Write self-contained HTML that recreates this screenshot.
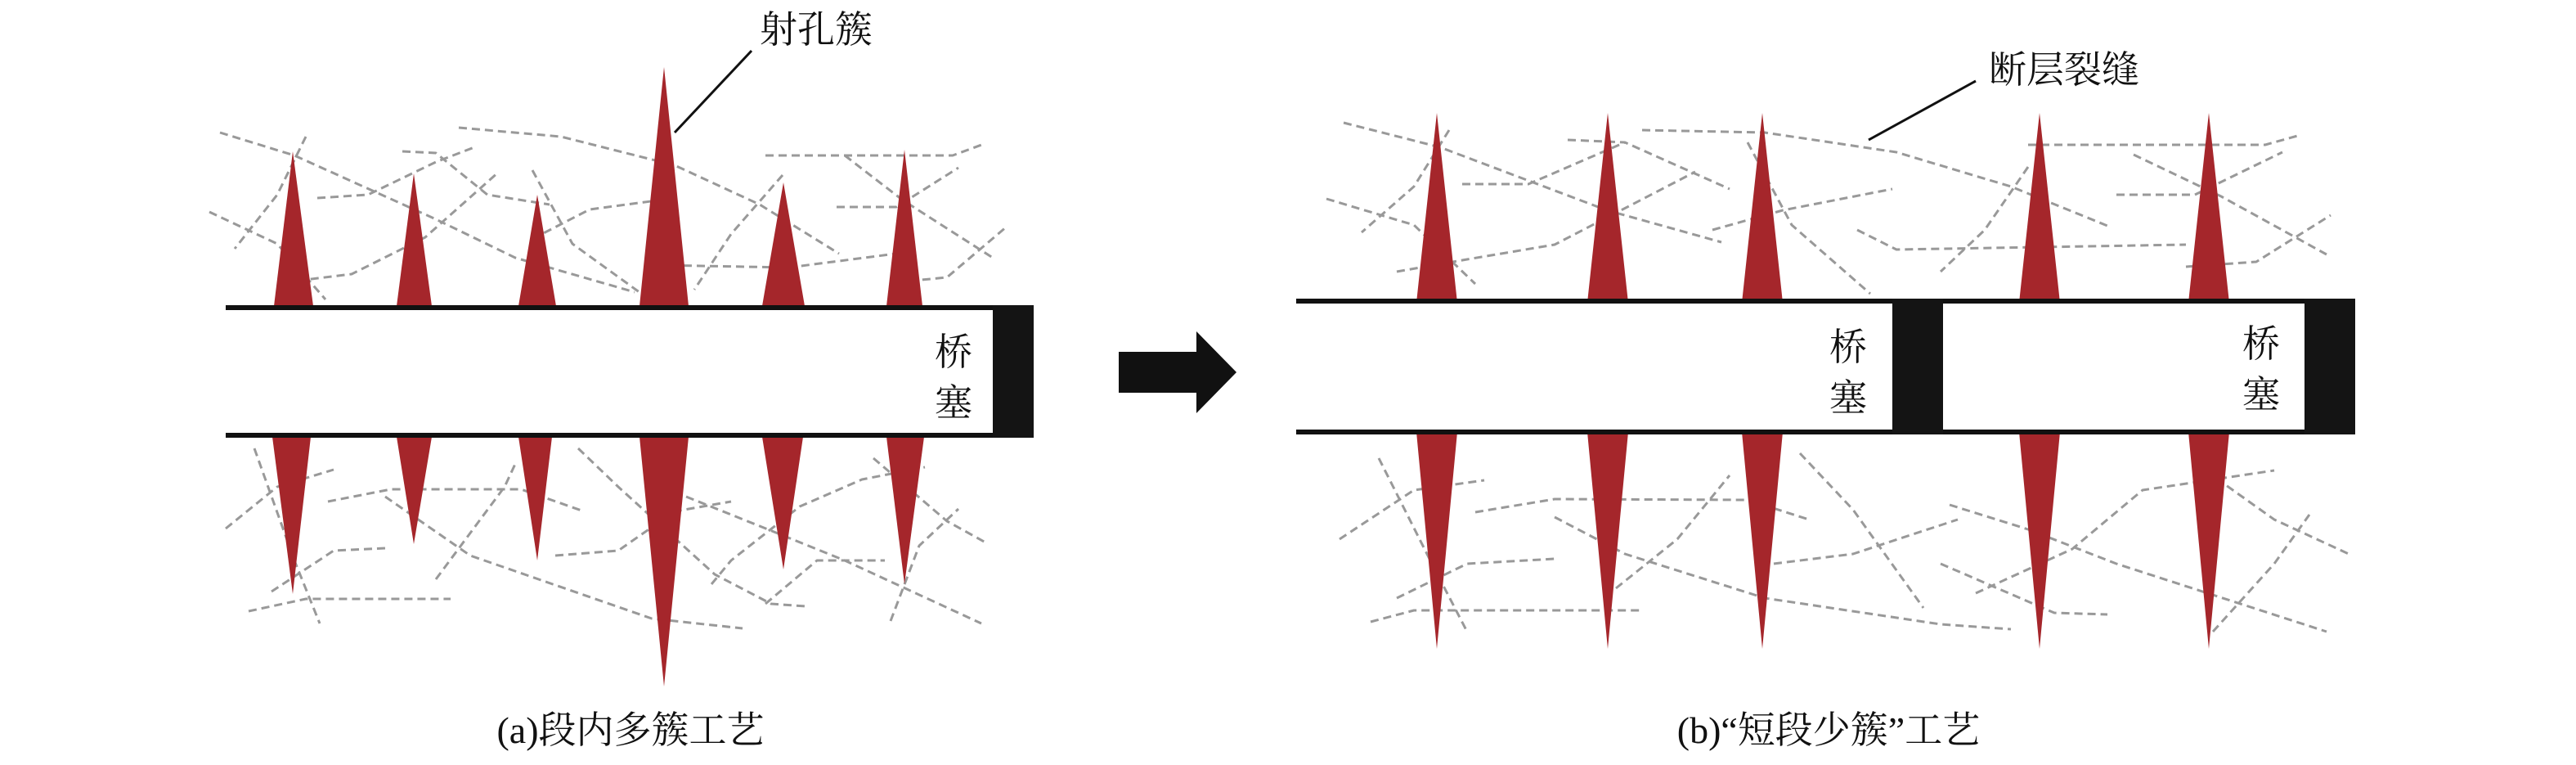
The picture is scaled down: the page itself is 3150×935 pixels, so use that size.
<!DOCTYPE html>
<html><head><meta charset="utf-8"><style>html,body{margin:0;padding:0;background:#fff}svg{display:block}</style></head>
<body>
<svg width="3150" height="935" viewBox="0 0 3150 935" xmlns="http://www.w3.org/2000/svg">
<rect width="3150" height="935" fill="#fff"/>
<g fill="none" stroke="#999" stroke-width="3" stroke-dasharray="10 6" stroke-linejoin="round">
<!-- part a top -->
<polyline points="269,162 360,190 533,268 630,315 776,357"/>
<polyline points="561,156 686,167 825,202 929,250 1026,310"/>
<polyline points="492,185 533,187 596,238 672,250"/>
<polyline points="388,242 450,238 533,198 580,180"/>
<polyline points="348,345 430,335 520,290 610,210"/>
<polyline points="651,292 721,256 811,244"/>
<polyline points="804,324 964,327 1096,310"/>
<polyline points="936,190 1165,190 1203,176"/>
<polyline points="1023,253 1096,253 1172,205"/>
<polyline points="1033,190 1103,244 1214,315"/>
<polyline points="1096,345 1158,339 1231,277"/>
<polyline points="256,259 339,298 398,366"/>
<polyline points="374,167 339,238 287,304"/>
<polyline points="651,208 700,298 790,363"/>
<polyline points="957,214 894,286 849,354"/>
<!-- part a bottom -->
<polyline points="311,548 360,685 391,762"/>
<polyline points="276,646 339,595 408,574"/>
<polyline points="401,613 478,598 637,598 714,625"/>
<polyline points="304,747 374,732 551,732"/>
<polyline points="332,723 408,673 471,670"/>
<polyline points="471,607 575,679 797,756 908,768"/>
<polyline points="533,708 617,595 631,565"/>
<polyline points="707,548 756,595 874,702 943,738 985,741"/>
<polyline points="679,679 756,673 825,625 894,613"/>
<polyline points="839,607 929,643 1033,685 1200,762"/>
<polyline points="870,714 894,685 978,619 1054,586 1131,571"/>
<polyline points="1068,560 1158,637 1207,664"/>
<polyline points="1089,759 1124,667 1172,622"/>
<polyline points="936,738 999,685 1082,685"/>
<!-- part b top -->
<polyline points="1643,150 1761,180 1965,257 2105,296"/>
<polyline points="2008,159 2158,162 2319,186 2459,228 2582,278"/>
<polyline points="1917,171 1987,174 2115,231"/>
<polyline points="1788,225 1869,225 1987,174"/>
<polyline points="1708,332 1794,317 1901,299 2073,210"/>
<polyline points="2094,281 2180,257 2314,231"/>
<polyline points="1622,243 1729,275 1804,347"/>
<polyline points="1772,159 1729,228 1665,284"/>
<polyline points="2137,174 2191,275 2287,359"/>
<polyline points="2271,281 2319,305 2673,299"/>
<polyline points="2480,177 2770,177 2813,165"/>
<polyline points="2588,238 2684,238 2791,186"/>
<polyline points="2609,189 2716,240 2845,311"/>
<polyline points="2673,326 2759,320 2850,263"/>
<polyline points="2480,204 2427,281 2373,332"/>
<!-- part b bottom -->
<polyline points="1686,560 1751,689 1794,772"/>
<polyline points="1638,659 1729,599 1815,587"/>
<polyline points="1804,626 1901,610 2137,611 2212,635"/>
<polyline points="1676,760 1729,746 2008,746"/>
<polyline points="1708,731 1794,689 1901,683"/>
<polyline points="1901,632 1987,677 2158,731 2373,763 2459,769"/>
<polyline points="1976,719 2051,659 2115,581"/>
<polyline points="2201,554 2266,623 2352,743"/>
<polyline points="2169,689 2266,677 2394,635"/>
<polyline points="2384,617 2480,647 2588,689 2845,772"/>
<polyline points="2416,725 2534,671 2620,599 2781,575"/>
<polyline points="2684,566 2781,635 2872,677"/>
<polyline points="2706,772 2781,689 2824,629"/>
<polyline points="2373,689 2512,749 2577,751"/>
</g>
<!-- part a spikes -->
<g fill="#a5262b">
<polygon points="335,374 358,185 383,374"/>
<polygon points="485,374 506,212 528,374"/>
<polygon points="634,374 657,238 680,374"/>
<polygon points="782,374 812,82 842,374"/>
<polygon points="932,374 958,223 984,374"/>
<polygon points="1084,374 1106,183 1128,374"/>
<polygon points="333,534 358,726 380,534"/>
<polygon points="485,534 506,665 528,534"/>
<polygon points="634,534 657,685 675,534"/>
<polygon points="782,534 812,839 842,534"/>
<polygon points="932,534 958,696 982,534"/>
<polygon points="1084,534 1106,714 1130,534"/>
<!-- part b spikes -->
<polygon points="1732,370 1757,138 1782,370"/>
<polygon points="1941,370 1966,138 1991,370"/>
<polygon points="2130,370 2155,138 2180,370"/>
<polygon points="2469,370 2494,138 2519,370"/>
<polygon points="2676,370 2701,138 2726,370"/>
<polygon points="1732,528 1757,793 1782,528"/>
<polygon points="1941,528 1966,793 1991,528"/>
<polygon points="2130,528 2155,793 2180,528"/>
<polygon points="2469,528 2494,793 2519,528"/>
<polygon points="2676,528 2701,793 2726,528"/>
</g>
<!-- part a pipe -->
<rect x="276" y="376" width="988" height="156" fill="#fff"/>
<line x1="276" y1="376" x2="1264" y2="376" stroke="#111" stroke-width="6"/>
<line x1="276" y1="532" x2="1264" y2="532" stroke="#111" stroke-width="6"/>
<rect x="1214" y="373" width="50" height="162" fill="#141414"/>
<!-- part b pipe -->
<rect x="1585" y="368" width="1295" height="160" fill="#fff"/>
<line x1="1585" y1="368" x2="2880" y2="368" stroke="#111" stroke-width="6"/>
<line x1="1585" y1="528" x2="2880" y2="528" stroke="#111" stroke-width="6"/>
<rect x="2314" y="365" width="62" height="166" fill="#141414"/>
<rect x="2818" y="365" width="62" height="166" fill="#141414"/>
<!-- arrow -->
<polygon points="1368,430 1463,430 1463,405 1512,455 1463,505 1463,480 1368,480" fill="#111"/>
<!-- leaders -->
<line x1="919" y1="62" x2="825" y2="162" stroke="#111" stroke-width="3"/>
<line x1="2416" y1="99" x2="2285" y2="171" stroke="#111" stroke-width="3"/>
<g font-family="'Liberation Serif','Noto Serif CJK SC',serif" fill="#111" font-size="46">
<text x="1166" y="446" text-anchor="middle">桥</text>
<text x="1166" y="508" text-anchor="middle">塞</text>
<text x="2260" y="440" text-anchor="middle">桥</text>
<text x="2260" y="502" text-anchor="middle">塞</text>
<text x="2765" y="436" text-anchor="middle">桥</text>
<text x="2765" y="498" text-anchor="middle">塞</text>
<text x="929" y="52">射孔簇</text>
<text x="2432" y="101">断层裂缝</text>
<text x="771" y="908" text-anchor="middle">(a)段内多簇工艺</text>
<text x="2236" y="908" text-anchor="middle">(b)“短段少簇”工艺</text>
</g>
</svg>
</body></html>
